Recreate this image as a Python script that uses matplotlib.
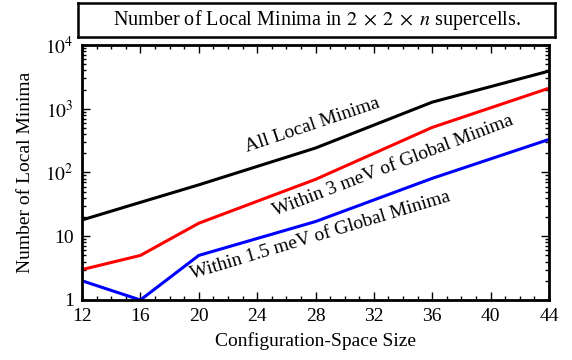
import numpy as np
import matplotlib
matplotlib.use("Agg")
import matplotlib.pyplot as plt
from matplotlib.ticker import FixedLocator, MultipleLocator, LogLocator, NullFormatter

plt.rcParams['font.family'] = ['Liberation Serif', 'DejaVu Serif']
plt.rcParams['mathtext.fontset'] = 'stix'

# данные с графика
sizes = [12, 16, 20, 28, 36, 44]
all_minima = [18, 34, 64, 242, 1270, 3900]
within_3mev = [3, 5, 16, 78, 510, 2100]
within_15mev = [2, 1, 5, 17, 81, 330]

fig = plt.figure(figsize=(5.72, 3.6), dpi=100)
ax = fig.add_axes([0.1434, 0.1667, 0.8164, 0.7083])

ax.plot(sizes, all_minima, color='black', lw=2.2)
ax.plot(sizes, within_3mev, color='red', lw=2.2)
ax.plot(sizes, within_15mev, color='blue', lw=2.2)

ax.set_yscale('log')
ax.set_xlim(12, 44)
ax.set_ylim(1, 1e4)
ax.xaxis.set_major_locator(MultipleLocator(4))
ax.xaxis.set_minor_locator(MultipleLocator(1))
ax.yaxis.set_major_locator(FixedLocator([1, 10, 100, 1000, 10000]))
ax.yaxis.set_minor_locator(LogLocator(base=10, subs=np.arange(2, 10)))
ax.yaxis.set_minor_formatter(NullFormatter())
ax.set_yticklabels(['1', '10', '$10^2$', '$10^3$', '$10^4$'])

ax.tick_params(which='both', direction='in', top=True, right=True, labelsize=14, width=1)
ax.tick_params(which='major', length=6, pad=6)
ax.tick_params(which='minor', length=3)
for s in ax.spines.values():
    s.set_linewidth(2)

ax.set_xlabel('Configuration-Space Size', fontsize=14, labelpad=5)
ax.set_ylabel('Number of Local Minima', fontsize=14, labelpad=8)

# подписи вдоль линий
ax.text(27.76, 556, 'All Local Minima', rotation=18.6, rotation_mode='anchor',
        ha='center', va='center', fontsize=14)
ax.text(33.31, 126, 'Within 3 meV of Global Minima', rotation=21, rotation_mode='anchor',
        ha='center', va='center', fontsize=14)
ax.text(28.31, 10.1, 'Within 1.5 meV of Global Minima', rotation=16.8, rotation_mode='anchor',
        ha='center', va='center', fontsize=14)

# заголовок в рамке
tax = fig.add_axes([0.1364, 0.8972, 0.8339, 0.0944])
tax.set_xticks([])
tax.set_yticks([])
for s in tax.spines.values():
    s.set_linewidth(1.8)
tax.text(0.5, 0.5, r'Number of Local Minima in $2\;\times\;2\;\times\;n$ supercells.',
         ha='center', va='center', fontsize=14.5, transform=tax.transAxes)

fig.savefig('out.png', dpi=100)
